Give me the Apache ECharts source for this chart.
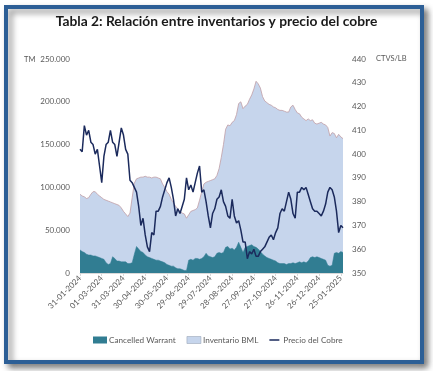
<!DOCTYPE html>
<html>
<head>
<meta charset="utf-8">
<script src="https://cdn.jsdelivr.net/npm/echarts@6/dist/echarts.min.js"></script>
<style>
html,body{margin:0;padding:0;background:#ffffff;}
#chart{width:433px;height:371px;}
</style>
</head>
<body>
<div id="chart"></div>
<script>
var titleText = 'Tabla 2: Relación entre inventarios y precio del cobre';
var seriesNames = ['Cancelled Warrant', 'Inventario BML', 'Precio del Cobre'];
var leftUnit = 'TM';
var rightUnit = 'CTVS/LB';

var dates = [
'31-01-2024','03-02-2024','06-02-2024','09-02-2024','12-02-2024','15-02-2024','18-02-2024','21-02-2024','24-02-2024','27-02-2024',
'01-03-2024','04-03-2024','07-03-2024','10-03-2024','13-03-2024','16-03-2024','19-03-2024','22-03-2024','25-03-2024','28-03-2024',
'31-03-2024','03-04-2024','06-04-2024','09-04-2024','12-04-2024','15-04-2024','18-04-2024','21-04-2024','24-04-2024','27-04-2024',
'30-04-2024','03-05-2024','06-05-2024','09-05-2024','12-05-2024','15-05-2024','18-05-2024','21-05-2024','24-05-2024','27-05-2024',
'30-05-2024','02-06-2024','05-06-2024','08-06-2024','11-06-2024','14-06-2024','17-06-2024','20-06-2024','23-06-2024','26-06-2024',
'29-06-2024','02-07-2024','05-07-2024','08-07-2024','11-07-2024','14-07-2024','17-07-2024','20-07-2024','23-07-2024','26-07-2024',
'29-07-2024','01-08-2024','04-08-2024','07-08-2024','10-08-2024','13-08-2024','16-08-2024','19-08-2024','22-08-2024','25-08-2024',
'28-08-2024','31-08-2024','03-09-2024','06-09-2024','09-09-2024','12-09-2024','15-09-2024','18-09-2024','21-09-2024','24-09-2024',
'27-09-2024','30-09-2024','03-10-2024','06-10-2024','09-10-2024','12-10-2024','15-10-2024','18-10-2024','21-10-2024','24-10-2024',
'27-10-2024','30-10-2024','02-11-2024','05-11-2024','08-11-2024','11-11-2024','14-11-2024','17-11-2024','20-11-2024','23-11-2024',
'26-11-2024','29-11-2024','02-12-2024','05-12-2024','08-12-2024','11-12-2024','14-12-2024','17-12-2024','20-12-2024','23-12-2024',
'26-12-2024','29-12-2024','01-01-2025','04-01-2025','07-01-2025','10-01-2025','13-01-2025','16-01-2025','19-01-2025','22-01-2025',
'25-01-2025','28-01-2025'
];

// Inventario BML (thousand TM)
var inventarioK = [
92,90,89,87,88,92,95,95,92,90,
88,86,85,84,83,82,81,80,79,76,
72,69,66,70,88,105,110,111,112,112,
113,112,112,111,112,112,111,110,104,100,
95,92,86,82,78,75,72,70,69,64,
68,72,73,74,76,85,95,104,106,107,
108,109,110,114,122,135,150,168,173,172,
176,178,185,198,200,192,195,197,203,208,
215,224,221,216,206,201,199,197,196,194,
193,191,190,190,189,188,188,194,196,191,
187,186,182,180,178,180,178,179,175,174,
175,176,174,173,170,160,164,163,158,162,
159,157
];

// Cancelled Warrant (thousand TM)
var cancelledK = [
27,25,24,22,21,21,20,20,19,18,
17,16,12,10,11,19,17,14,14,13,
13,13,11,11,12,22,31,28,25,24,
21,19,18,17,16,15,15,14,13,12,
10,9,8,8,6,5,5,4,3,3,
15,16,15,17,17,16,17,19,23,20,
19,18,19,23,24,23,24,30,31,28,
29,27,30,36,30,24,30,31,32,33,
31,30,28,25,22,20,18,17,16,15,
14,12,11,11,11,10,11,11,12,11,
12,13,12,13,12,14,18,19,18,19,
18,17,16,15,9,8,9,23,24,23,
25,24
];

// Precio del Cobre (cents/lb)
var precio = [
402,401,412,408,410,405,404,400,402,395,
388,399,404,405,410,405,404,399,405,411,
408,402,400,389,388,386,384,378,370,373,
366,361,359,367,366,376,376,378,382,385,
388,390,386,381,374,377,375,378,381,390,
385,387,384,388,392,395,384,385,380,374,
369,375,377,381,382,385,380,378,374,373,
381,374,371,372,368,363,363,356,359,358,
360,357,357,359,360,361,363,365,366,364,
367,369,375,377,376,380,384,381,375,373,
384,384,386,385,386,383,380,377,376,376,
375,374,376,379,384,386,385,382,376,367,
370,369
];

var leftTicks = [0, 50000, 100000, 150000, 200000, 250000];
var rightTicks = [350, 360, 370, 380, 390, 400, 410, 420, 430, 440];

var inventario = inventarioK.map(function (v) { return v * 1000; });
var cancelled = cancelledK.map(function (v) { return v * 1000; });

function fmtThousands(v) {
  if (v === 0) return '0';
  var s = String(Math.round(v));
  return s.replace(/\B(?=(\d{3})+(?!\d))/g, '.');
}

var FONT = 'Lato';
var GRAY = '#595959';
var LINE_ICON = 'path://M0,0L0.01,0M0,5.5L20,5.5L20,8.5L0,8.5ZM0,14L0.01,14';

var chart = echarts.init(document.getElementById('chart'), null, { renderer: 'canvas' });
chart.setOption({
  animation: false,
  backgroundColor: '#ffffff',
  graphic: [
    {
      type: 'rect', z: -10, silent: true,
      shape: { x: 6, y: 7, width: 416, height: 355 },
      style: {
        fill: '#ffffff', stroke: '#2D5F96', lineWidth: 4,
        shadowBlur: 6, shadowOffsetX: 4, shadowOffsetY: 4, shadowColor: 'rgba(0,0,0,0.45)'
      }
    },
    {
      type: 'text', left: 'center', top: 15, silent: true,
      style: { text: titleText, font: 'bold 13.8px ' + FONT, fill: '#1a1a1a' }
    },
    {
      type: 'text', left: 24, top: 56, silent: true,
      style: { text: leftUnit, font: '7.5px ' + FONT, fill: GRAY }
    },
    {
      type: 'text', left: 376, top: 55, silent: true,
      style: { text: rightUnit, font: '7.5px ' + FONT, fill: GRAY }
    }
  ],
  grid: { left: 80, right: 90, top: 59, bottom: 98, containLabel: false },
  legend: {
    left: 88, top: 331,
    itemWidth: 14, itemHeight: 7, itemGap: 11,
    textStyle: { fontFamily: FONT, fontSize: 8.2, color: GRAY, padding: [0, 0, 0, -3] },
    data: [
      { name: seriesNames[0], icon: 'rect' },
      { name: seriesNames[1], icon: 'rect', itemStyle: { borderColor: '#9aa6b8', borderWidth: 0.6 } },
      { name: seriesNames[2], icon: LINE_ICON }
    ]
  },
  xAxis: {
    type: 'category',
    data: dates,
    boundaryGap: false,
    axisLine: { lineStyle: { color: '#d9d9d9', width: 1 } },
    axisTick: { show: true, interval: 9, length: 3, lineStyle: { color: '#d9d9d9' } },
    axisLabel: {
      interval: 9, rotate: 45, fontFamily: FONT, fontSize: 8, color: GRAY, margin: 4
    },
    splitLine: { show: false }
  },
  yAxis: [
    {
      type: 'value', min: 0, max: 250000, interval: 50000,
      axisLine: { show: false }, axisTick: { show: false }, splitLine: { show: false },
      axisLabel: { fontFamily: FONT, fontSize: 8, color: GRAY, margin: 10, formatter: fmtThousands }
    },
    {
      type: 'value', min: 350, max: 440, interval: 10,
      axisLine: { show: false }, axisTick: { show: false }, splitLine: { show: false },
      axisLabel: { fontFamily: FONT, fontSize: 8, color: GRAY, margin: 9 }
    }
  ],
  series: [
    {
      name: seriesNames[1], type: 'line', yAxisIndex: 0, data: inventario,
      symbol: 'none', z: 1,
      itemStyle: { color: '#C6D5EC' },
      lineStyle: { color: '#C09EA6', width: 0.8 },
      areaStyle: { color: '#C6D5EC', opacity: 1 }
    },
    {
      name: seriesNames[0], type: 'line', yAxisIndex: 0, data: cancelled,
      symbol: 'none', z: 2,
      itemStyle: { color: '#317D92' },
      lineStyle: { color: '#317D92', width: 0.5 },
      areaStyle: { color: '#317D92', opacity: 1 }
    },
    {
      name: seriesNames[2], type: 'line', yAxisIndex: 1, data: precio,
      symbol: 'none', z: 3,
      itemStyle: { color: '#1B2A5C' },
      lineStyle: { color: '#1B2A5C', width: 1.5 }
    }
  ]
});
</script>
</body>
</html>
